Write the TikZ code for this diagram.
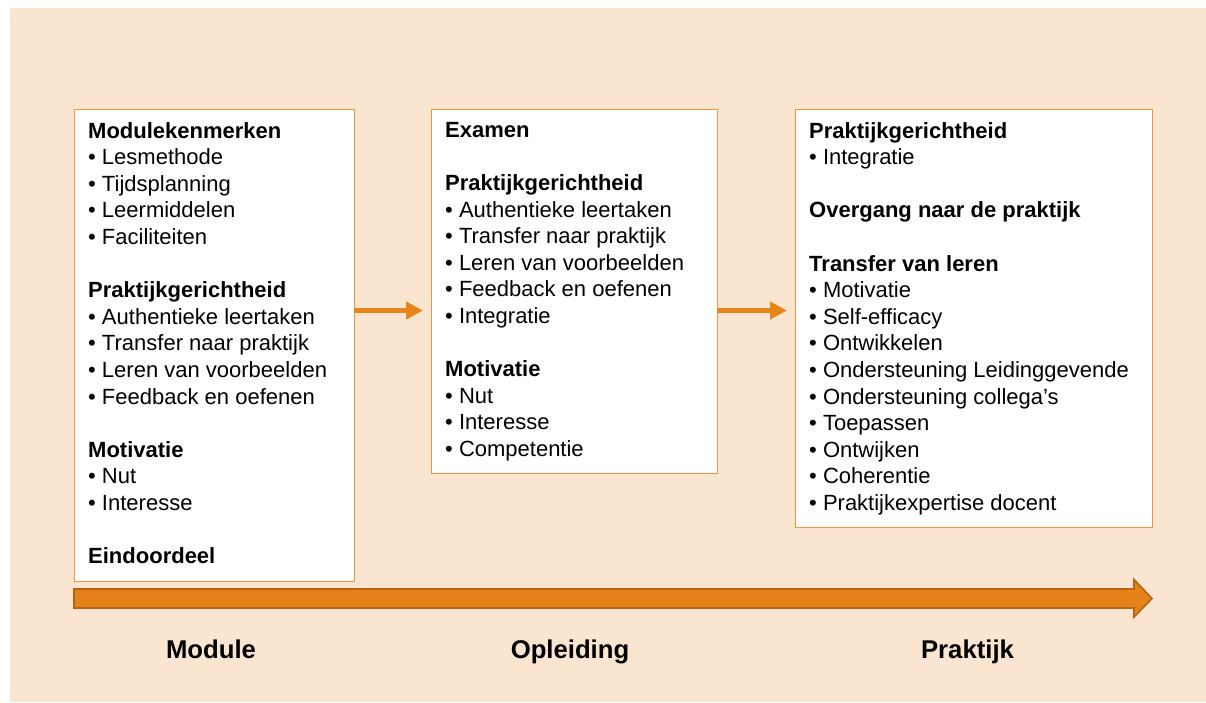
\documentclass[tikz,border=0pt]{standalone}
\usepackage{fontspec}
\setmainfont{Liberation Sans}
\usetikzlibrary{arrows.meta}
\definecolor{peach}{HTML}{FAE5D0}
\definecolor{boxborder}{HTML}{EF9440}
\definecolor{arrorange}{HTML}{E8841C}
\definecolor{bigfill}{HTML}{E6821A}
\definecolor{bigedge}{HTML}{B56515}
\newcommand{\gapline}{\\[26.6pt]}
\tikzset{
  boxnode/.style={draw=boxborder, line width=1.2pt, fill=white, anchor=north west, inner sep=0pt},
  txtnode/.style={anchor=north west, inner sep=0pt, align=left, font=\fontsize{22}{26.6}\selectfont},
  lblnode/.style={font=\fontsize{25.7}{30}\selectfont\bfseries, inner sep=0pt, anchor=base},
  flowarrow/.style={draw=arrorange, line width=4.6pt, -{Triangle[length=17pt,width=17pt]}}
}
\begin{document}
\begin{tikzpicture}[x=1pt,y=-1pt]
\useasboundingbox (0,0) rectangle (1206,702);
\fill[peach] (10,8) rectangle (1206,702);
% boxes
\node[boxnode, minimum width=280pt, minimum height=472pt] (b1) at (74,109) {};
\node[boxnode, minimum width=286pt, minimum height=364pt] (b2) at (431,109) {};
\node[boxnode, minimum width=357pt, minimum height=418pt] (b3) at (795,109) {};
% texts
\node[txtnode] (t1) at (88,122) {\textbf{Modulekenmerken}\\
• Lesmethode\\
• Tijdsplanning\\
• Leermiddelen\\
• Faciliteiten\gapline
\textbf{Praktijkgerichtheid}\\
• Authentieke leertaken\\
• Transfer naar praktijk\\
• Leren van voorbeelden\\
• Feedback en oefenen\gapline
\textbf{Motivatie}\\
• Nut\\
• Interesse\gapline
\textbf{Eindoordeel}};
\node[txtnode] (t2) at (445,122) {\textbf{Examen}\gapline
\textbf{Praktijkgerichtheid}\\
• Authentieke leertaken\\
• Transfer naar praktijk\\
• Leren van voorbeelden\\
• Feedback en oefenen\\
• Integratie\gapline
\textbf{Motivatie}\\
• Nut\\
• Interesse\\
• Competentie};
\node[txtnode] (t3) at (809,122) {\textbf{Praktijkgerichtheid}\\
• Integratie\gapline
\textbf{Overgang naar de praktijk}\gapline
\textbf{Transfer van leren}\\
• Motivatie\\
• Self-efficacy\\
• Ontwikkelen\\
• Ondersteuning Leidinggevende\\
• Ondersteuning collega’s\\
• Toepassen\\
• Ontwijken\\
• Coherentie\\
• Praktijkexpertise docent};
% connectors
\coordinate (a1s) at (354,310.5);
\coordinate (a1e) at (423,310.5);
\coordinate (a2s) at (717.5,310.5);
\coordinate (a2e) at (787,310.5);
\draw[flowarrow] (a1s) -- (a1e);
\draw[flowarrow] (a2s) -- (a2e);
% big timeline arrow
\filldraw[fill=bigfill, draw=bigedge, line width=1.6pt, line join=miter]
  (74,589) -- (1134,589) -- (1134,579.5) -- (1152,598.5) -- (1134,617) -- (1134,608) -- (74,608) -- cycle;
% labels
\node[lblnode] (l1) at (211,658) {Module};
\node[lblnode] (l2) at (570,658) {Opleiding};
\node[lblnode] (l3) at (967.5,658) {Praktijk};
\end{tikzpicture}
\end{document}
